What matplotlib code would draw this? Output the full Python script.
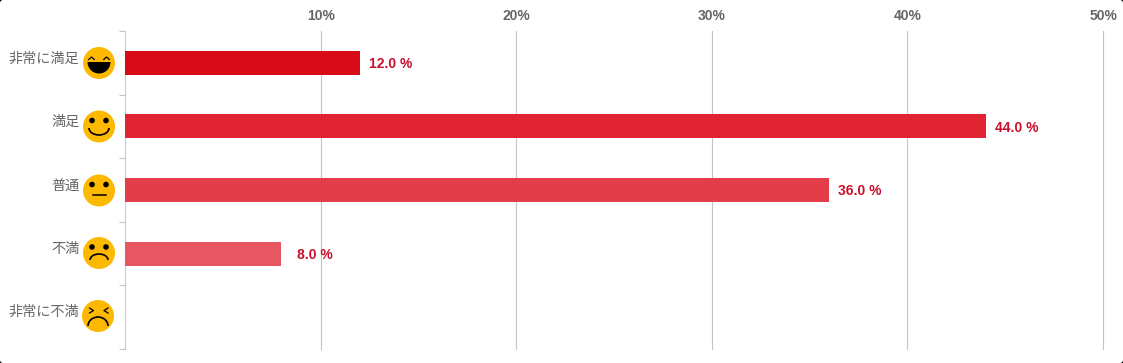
import matplotlib
matplotlib.use("Agg")
import matplotlib.pyplot as plt
from matplotlib.patches import Circle, Arc, Wedge, FancyBboxPatch

plt.rcParams['font.family'] = ['Noto Sans CJK JP', 'DejaVu Sans']

# data
categories = ["非常に満足", "満足", "普通", "不満", "非常に不満"]
values = [12.0, 44.0, 36.0, 8.0, 0.0]
bar_colors = ["#d80c18", "#e02433", "#e33d4a", "#e65663", "#e8707a"]
tick_vals = [10, 20, 30, 40, 50]
tick_labels = ["10%", "20%", "30%", "40%", "50%"]
gap_after = [6.5, 6.5, 6.5, 11.5, 6.5]

W, H = 1123, 363
fig = plt.figure(figsize=(W / 100, H / 100), dpi=100, facecolor="black")

# rounded white card
bg = fig.add_axes([0, 0, 1, 1])
bg.set_xlim(0, W)
bg.set_ylim(H, 0)
bg.axis("off")
bg.add_patch(FancyBboxPatch((2, 2), W - 4, H - 4, boxstyle="round,pad=2,rounding_size=3",
                            fc="white", ec="none"))

ax = fig.add_axes([125 / W, 1 - 349 / H, (1103 - 125) / W, (349 - 31) / H])
ax.patch.set_alpha(0)
ax.set_xlim(0, 50)
ax.set_ylim(4.5, -0.5)
ax.barh(range(5), values, height=0.378, color=bar_colors, zorder=3)

ax.set_xticks(tick_vals)
ax.set_xticklabels(tick_labels, fontsize=10, fontweight="bold", color="#666666",
                   family=["Liberation Sans", "DejaVu Sans"])
ax.xaxis.tick_top()
ax.tick_params(axis="x", length=0, pad=6)
ax.grid(axis="x", color="#c4c4c4", lw=0.8, zorder=1, clip_on=False)

# ticks between the categories
ax.set_yticks([i - 0.5 for i in range(6)])
ax.set_yticklabels([])
ax.tick_params(axis="y", length=4, color="#c4c4c4", width=0.8)
for s in ["top", "right", "bottom"]:
    ax.spines[s].set_visible(False)
ax.spines["left"].set_color("#c6ccd6")
ax.spines["left"].set_linewidth(0.8)

# value labels next to the bars
for i, v in enumerate(values):
    if v > 0:
        ax.annotate(f"{v:.1f} %", (v, i), xytext=(gap_after[i], -1), textcoords="offset points",
                    ha="left", va="center", fontsize=10, fontweight="bold", color="#c8102e",
                    family=["Liberation Sans", "DejaVu Sans"], zorder=4)

# category names and faces, in pixel coordinates
ov = fig.add_axes([0, 0, 1, 1])
ov.set_xlim(0, W)
ov.set_ylim(H, 0)
ov.axis("off")
ov.patch.set_alpha(0)

face_y = [63, 126.5, 190.5, 253, 316]
face_x = [99, 99, 99, 99, 98]
text_y = [59, 122, 186, 249, 312]
for i, name in enumerate(categories):
    ov.text(79.5, text_y[i], name, ha="right", va="center", fontsize=10.2, color="#666666")
    x, y = face_x[i], face_y[i]
    ov.add_patch(Circle((x, y), 16, fc="#fdb900", ec="none"))

    if i == 0:
        # closed laughing eyes, open mouth
        for dx in (-7.5, 7.5):
            ov.plot([x + dx - 2.8, x + dx, x + dx + 2.8], [y - 3.5, y - 6, y - 3.5], color="black", lw=0.9)
        ov.add_patch(Wedge((x, y - 1), 11.5, 0, 180, fc="black", ec="none"))
    elif i in (1, 2, 3):
        for dx in (-7, 7):
            ov.add_patch(Circle((x + dx, y - 6), 2.8, fc="black", ec="none"))
    if i == 1:
        ov.add_patch(Arc((x, y + 1.5), 20, 14, theta1=0, theta2=180, color="black", lw=1.2))
    if i == 2:
        ov.plot([x - 6.5, x + 6.5], [y + 4.5, y + 4.5], color="black", lw=1.1)
    if i == 3:
        ov.add_patch(Arc((x, y + 7), 18, 12, theta1=180, theta2=360, color="black", lw=1.2))
    if i == 4:
        ov.plot([x - 8.5, x - 4.5, x - 8.5], [y - 8, y - 5.5, y - 3], color="black", lw=0.9)
        ov.plot([x + 10, x + 6, x + 10], [y - 8, y - 5.5, y - 3], color="black", lw=0.9)
        ov.add_patch(Arc((x, y + 10), 20, 18, theta1=180, theta2=360, color="black", lw=1.2))

fig.savefig("out.png", dpi=100, facecolor="black")
